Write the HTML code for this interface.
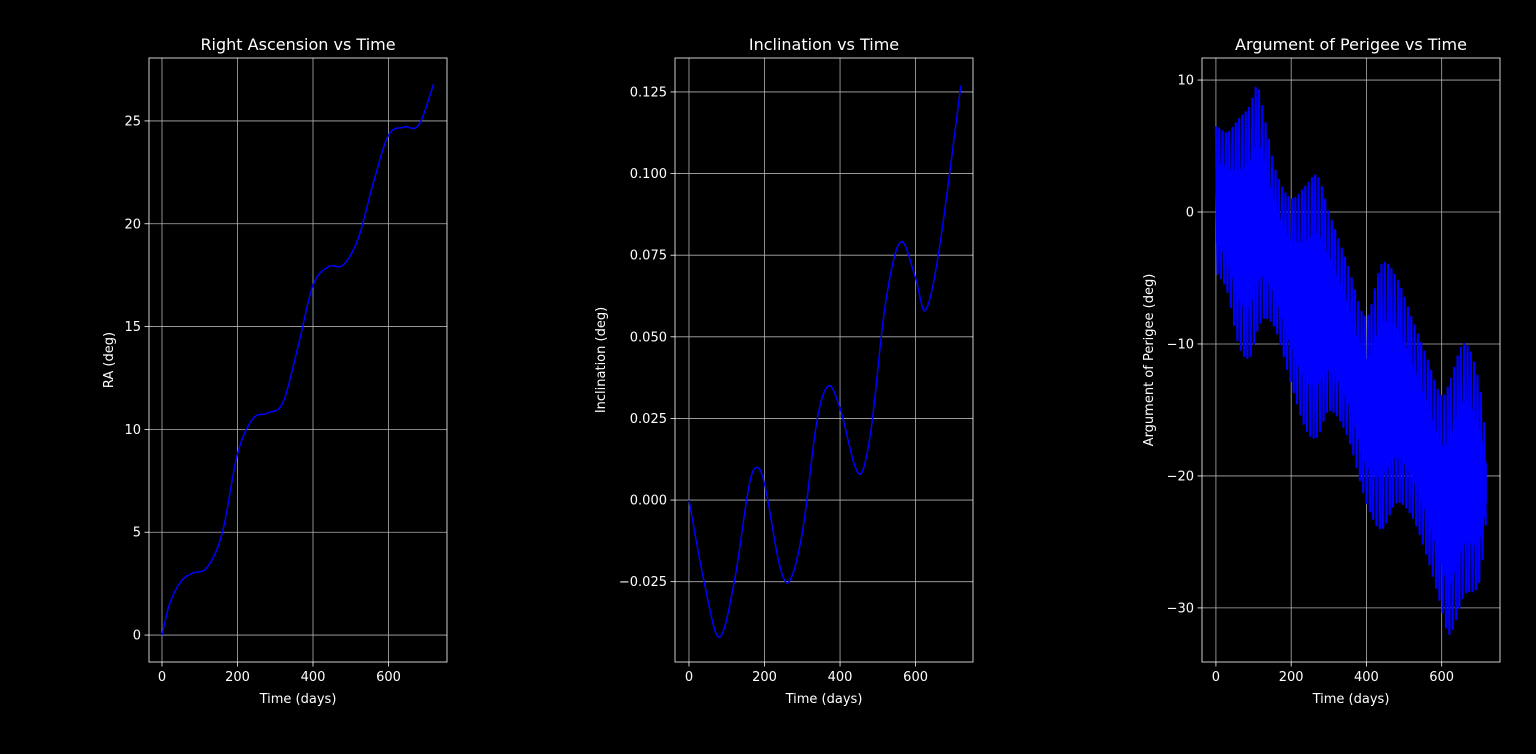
<!DOCTYPE html>
<html><head><meta charset="utf-8">
<style>
html,body{margin:0;padding:0;background:#000;}
svg{display:block;font-family:"DejaVu Sans","Liberation Sans",sans-serif;}
</style></head>
<body>
<svg id="fig" width="1536" height="754" xmlns="http://www.w3.org/2000/svg">
<rect x="0" y="0" width="1536" height="754" fill="#000"/>
</svg>
<script>
// ---- Data ----
const raTime = [0,20,50,80,120,160,200,240,280,320,360,400,440,480,520,560,600,640,680,720];
const raValues = [0,1.5,2.6,3.0,3.3,5.0,8.8,10.5,10.8,11.3,14.0,17.0,17.9,18.0,19.3,22.0,24.3,24.7,24.8,26.8];
const incTime = [0,40,80,120,160,180,200,240,265,300,340,370,400,450,480,520,560,600,625,660,720];
const incValues = [0,-0.025,-0.042,-0.025,0.005,0.01,0.005,-0.02,-0.025,-0.01,0.025,0.035,0.028,0.008,0.02,0.06,0.079,0.068,0.058,0.075,0.127];
const argTime = [0,30,60,90,110,130,160,200,240,270,300,350,400,440,480,520,560,600,620,660,700,720];
const argUpper = [6.5,6,7,8,9.5,7,3,1,2,2.7,0,-4,-8,-4,-5,-8,-11,-14,-13,-10,-13,-18];
const argLower = [-4.5,-6,-10,-11,-9,-8,-9,-13,-16.5,-17,-15,-17,-22,-24,-22,-23,-26,-30,-32,-29,-28,-23];
const xTicks = [0,200,400,600];
const raTicks = [0,5,10,15,20,25];
const incTicks = [-0.025,0,0.025,0.05,0.075,0.1,0.125];
const incTickLabels = ["−0.025","0.000","0.025","0.050","0.075","0.100","0.125"];
const argTicks = [10,0,-10,-20,-30];

const NS="http://www.w3.org/2000/svg";
const fig=document.getElementById('fig');
function mk(tag,attrs,parent){const e=document.createElementNS(NS,tag);for(const k in attrs)e.setAttribute(k,attrs[k]);(parent||fig).appendChild(e);return e;}
function spline(ts,vs,t){ // catmull-rom
  let i=0;while(i<ts.length-2&&t>ts[i+1])i++;
  const p0=vs[Math.max(i-1,0)],p1=vs[i],p2=vs[i+1],p3=vs[Math.min(i+2,vs.length-1)];
  const t0=ts[Math.max(i-1,0)],t1=ts[i],t2=ts[i+1],t3=ts[Math.min(i+2,ts.length-1)];
  const s=(t-t1)/(t2-t1),h=t2-t1;
  const m1=(p2-p0)/((t2-t0)||1)*h,m2=(p3-p1)/((t3-t1)||1)*h;
  const s2=s*s,s3=s2*s;
  return (2*s3-3*s2+1)*p1+(s3-2*s2+s)*m1+(-2*s3+3*s2)*p2+(s3-s2)*m2;
}
function panel(cfg){
  const g=mk('g',{});
  
  
  const L=cfg.L,R=cfg.R,T=58,B=662;
  const sx=v=>L+(v-cfg.xmin)/(cfg.xmax-cfg.xmin)*(R-L);
  const sy=v=>B-(v-cfg.ymin)/(cfg.ymax-cfg.ymin)*(B-T);
  xTicks.forEach(v=>{
    const l=mk('line',{x1:sx(v),x2:sx(v),y1:T,y2:B,stroke:'#b0b0b0','stroke-width':0.8},g);
    
    mk('line',{x1:sx(v),x2:sx(v),y1:B,y2:B+4.5,stroke:'#fff','stroke-width':0.8},g);
    const t=mk('text',{x:sx(v),y:B+19,fill:'#fff','font-size':13,'text-anchor':'middle'},g);
    t.textContent=String(v);
    
  });
  cfg.yTicks.forEach((v,i)=>{
    const l=mk('line',{x1:L,x2:R,y1:sy(v),y2:sy(v),stroke:'#b0b0b0','stroke-width':0.8},g);
    
    mk('line',{x1:L-4.5,x2:L,y1:sy(v),y2:sy(v),stroke:'#fff','stroke-width':0.8},g);
    const t=mk('text',{x:L-8,y:sy(v)+4.5,fill:'#fff','font-size':13,'text-anchor':'end'},g);
    t.textContent=cfg.yLabels?cfg.yLabels[i]:(v<0?'−'+(-v):String(v));
    
  });
  if(cfg.fill){
    const f=mk('path',{d:cfg.fill(sx,sy),fill:'#0000ff',stroke:'none'},g);
    
  }
  const p=mk('path',{d:cfg.path(sx,sy),fill:'none',stroke:'#0000ff','stroke-width':cfg.sw||1.5,'stroke-linejoin':'round'},g);
  
  const fr=mk('rect',{x:L,y:T,width:R-L,height:B-T,fill:'none',stroke:'#fff','stroke-width':0.8},g);
  
  const ti=mk('text',{x:(L+R)/2,y:50,fill:'#fff','font-size':16,'text-anchor':'middle'},g);
  ti.textContent=cfg.title;
  const xl=mk('text',{x:(L+R)/2,y:703,fill:'#fff','font-size':13,'text-anchor':'middle'},g);
  xl.textContent=cfg.xlabel;
  const yl=mk('text',{x:0,y:0,fill:'#fff','font-size':13,'text-anchor':'middle',transform:`translate(${cfg.ylx},${(T+B)/2}) rotate(-90)`},g);
  yl.textContent=cfg.ylabel;
}
function smoothPath(ts,vs){return (sx,sy)=>{let d='';for(let t=0;t<=ts[ts.length-1];t+=2){d+=(t?'L':'M')+sx(t).toFixed(2)+','+sy(spline(ts,vs,t)).toFixed(2);}return d;};}

panel({name:'ra-panel',L:149,R:447,xmin:-34.4,xmax:755,ymin:-1.31,ymax:28.06,yTicks:raTicks,
  title:'Right Ascension vs Time',xlabel:'Time (days)',ylabel:'RA (deg)',ylx:113,seriesName:'ra-line',
  path:smoothPath(raTime,raValues)});
panel({name:'inclination-panel',L:675,R:973,xmin:-37,xmax:752,ymin:-0.0496,ymax:0.1354,yTicks:incTicks,yLabels:incTickLabels,
  title:'Inclination vs Time',xlabel:'Time (days)',ylabel:'Inclination (deg)',ylx:605,seriesName:'inclination-line',
  path:smoothPath(incTime,incValues)});
panel({name:'perigee-panel',L:1202,R:1500,xmin:-37,xmax:755,ymin:-34.1,ymax:11.67,yTicks:argTicks,
  title:'Argument of Perigee vs Time',xlabel:'Time (days)',ylabel:'Argument of Perigee (deg)',ylx:1153,seriesName:'perigee-line',sw:2.2,
  fill:(sx,sy)=>{let up='',dn=[];for(let t=0;t<=720;t+=4){const u=spline(argTime,argUpper,t),l=spline(argTime,argLower,t);const m=(u+l)/2,h=(u-l)/2;up+=(t?'L':'M')+sx(t).toFixed(2)+','+sy(m+0.55*h).toFixed(2);dn.unshift('L'+sx(t).toFixed(2)+','+sy(m-0.6*h).toFixed(2));}return up+dn.join('')+'Z';},
  path:(sx,sy)=>{let d='';let k=0;for(let t=0;t<=720;t+=4.4,k++){const v=k%2?spline(argTime,argLower,t):spline(argTime,argUpper,t);d+=(k?'L':'M')+sx(t).toFixed(2)+','+sy(v).toFixed(2);}return d;}});
</script>
</body></html>
